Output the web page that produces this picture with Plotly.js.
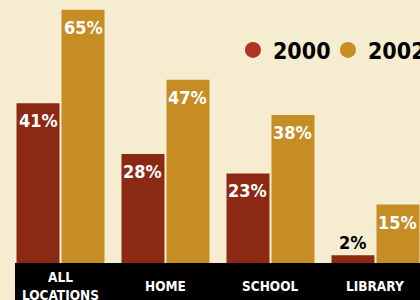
<!DOCTYPE html>
<html>
<head>
<meta charset="utf-8">
<script src="https://cdn.plot.ly/plotly-3.0.1.min.js"></script>
<style>
html,body{margin:0;padding:0;background:#F6EDD1;}
#chart{width:420px;height:300px;}
</style>
</head>
<body>
<div id="chart"></div>
<script>
// Data
const categories = ["ALL LOCATIONS", "HOME", "SCHOOL", "LIBRARY"];
const tickLabels = ["ALL<br>LOCATIONS", "HOME", "SCHOOL", "LIBRARY"];
const series2000 = [41, 28, 23, 2];
const series2002 = [65, 47, 38, 15];
const seriesNames = ["2000", "2002"];

const FONT = '"DejaVu Sans Condensed", "Liberation Sans Narrow", sans-serif';
const C2000 = "#8B2915", C2000dot = "#AE3522", C2002 = "#C68D25", BG = "#F6EDD1";
const BAR_OFFSET = 22.5; // px from category centre to each bar centre (style)

const pct = v => v.map(x => x + "%");

const traces = [
  {type: "bar", x: categories, y: series2000, name: seriesNames[0], showlegend: false,
   marker: {color: C2000}, hoverinfo: "none"},
  {type: "bar", x: categories, y: series2002, name: seriesNames[1], showlegend: false,
   marker: {color: C2002}, hoverinfo: "none"},
  // legend entries (round dots)
  {type: "scatter", mode: "markers", x: [null], y: [null], name: seriesNames[0],
   marker: {color: C2000dot, size: 20}, showlegend: true, hoverinfo: "none"},
  {type: "scatter", mode: "markers", x: [null], y: [null], name: seriesNames[1],
   marker: {color: C2002, size: 20}, showlegend: true, hoverinfo: "none"}
];

// value labels
const valueAnn = [];
[[series2000, -BAR_OFFSET], [series2002, BAR_OFFSET]].forEach(([vals, dx]) => {
  const labels = pct(vals);
  vals.forEach((v, i) => {
    const small = v < 5;
    valueAnn.push({
      x: categories[i], xref: "x", y: v, yref: "y", xshift: dx,
      yanchor: small ? "bottom" : "top", yshift: small ? 0 : -5,
      text: labels[i], showarrow: false,
      font: {family: FONT, size: 18, color: small ? "#000000" : "#ffffff", weight: "bold"}
    });
  });
});

const tickAnn = categories.map((c, i) => ({
  x: c, xref: "x", y: -23 / 263, yref: "paper", yanchor: "middle", xanchor: "center",
  text: tickLabels[i], showarrow: false,
  font: {family: FONT, size: 13.5, color: "#ffffff", weight: "bold"}
}));

const layout = {
  width: 420, height: 300,
  paper_bgcolor: BG, plot_bgcolor: BG,
  margin: {l: 8, r: 0, t: 0, b: 37, pad: 0, autoexpand: false},
  barmode: "group", bargap: 0.143, bargroupgap: 0.045,
  showlegend: true,
  legend: {orientation: "h", x: 0.546, xanchor: "left", y: 0.81, yanchor: "middle",
           bgcolor: "rgba(0,0,0,0)", borderwidth: 0, itemsizing: "trace",
           entrywidth: 50, entrywidthmode: "pixels",
           font: {family: FONT, size: 23, color: "#000000", weight: "bold"}},
  xaxis: {type: "category", range: [-0.5, 3.424], showticklabels: false, ticks: "",
          showgrid: false, zeroline: false, showline: false, fixedrange: true},
  yaxis: {range: [0, 67.5], showticklabels: false, ticks: "", showgrid: false,
          zeroline: false, showline: false, fixedrange: true},
  shapes: [{type: "rect", xref: "paper", yref: "paper", x0: 7 / 412, x1: 1.05,
            y0: -0.2, y1: 0, fillcolor: "#000000", line: {width: 0}, layer: "below"}],
  annotations: valueAnn.concat(tickAnn),
  font: {family: FONT}
};

Plotly.newPlot("chart", traces, layout, {displayModeBar: false, staticPlot: true});
</script>
</body>
</html>
